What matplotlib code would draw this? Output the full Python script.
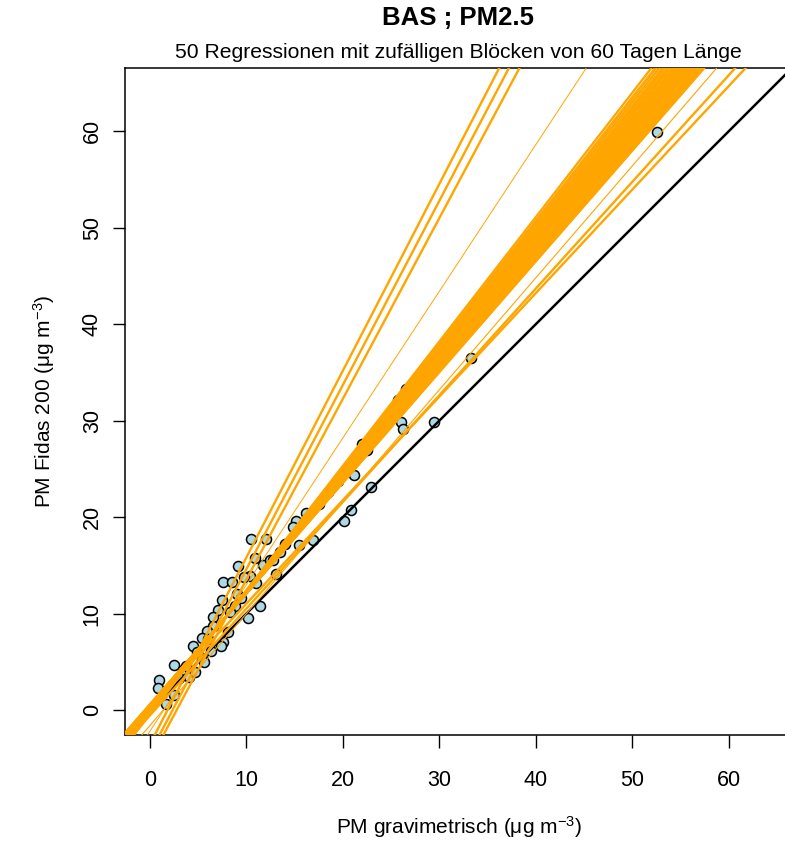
import numpy as np
import matplotlib
matplotlib.use("Agg")
from matplotlib import pyplot as plt

plt.rcParams['font.family'] = ['Liberation Sans', 'DejaVu Sans']
plt.rcParams['mathtext.fontset'] = 'custom'
plt.rcParams['mathtext.rm'] = 'Liberation Sans'
plt.rcParams['mathtext.it'] = 'Liberation Sans'

# Tagesmittel: gravimetrisch (x) gegen Fidas 200 (y)
grav = [52.6, 37.9, 40.9, 33.3, 29.5, 26.0, 26.2, 25.7, 26.6, 22.0,
        21.2, 22.9, 20.9, 20.1, 16.9, 15.2, 16.2, 15.5, 14.9, 30.1,
        29.5, 22.5, 27.2, 10.5, 12.1, 10.9, 11.7, 13.1, 10.4, 9.2,
        7.6, 8.5, 9.8, 7.5, 9.0, 11.4, 10.2, 7.1, 6.6, 6.6,
        5.9, 8.1, 7.6, 4.5, 5.4, 7.4, 6.4, 5.4, 2.5, 1.0,
        5.6, 4.1, 2.5, 0.9, 4.7, 1.7, 3.5, 3.0, 12.5, 13.5,
        14.0, 17.5, 18.5, 19.5, 24.0, 35.0, 32.0, 8.8, 9.5, 6.0,
        4.9, 3.8, 8.3, 11.0, 12.8]
fidas = [59.9, 47.0, 48.8, 36.5, 29.9, 29.9, 29.2, 32.2, 33.3, 27.6,
         24.4, 23.1, 20.8, 19.6, 17.6, 19.6, 20.4, 17.1, 19.0, 37.3,
         35.6, 27.0, 33.0, 17.8, 17.8, 15.8, 15.1, 14.1, 13.9, 15.0,
         13.3, 13.3, 13.8, 11.4, 12.0, 10.8, 9.6, 10.4, 9.7, 8.7,
         8.2, 8.1, 7.1, 6.7, 7.5, 6.7, 6.1, 5.4, 4.7, 3.1,
         5.0, 3.5, 1.6, 2.3, 4.0, 0.7, 4.2, 3.3, 15.6, 16.4,
         17.2, 21.4, 22.6, 23.8, 29.4, 42.0, 38.9, 10.8, 11.6, 7.4,
         6.0, 4.6, 10.2, 13.2, 15.6]

# 50 Regressionen (Achsenabschnitt, Steigung)
icpt = [-3.56, -4.50, -5.21, -2.20, -1.60, -0.55, 0.30,
        -0.469, -0.405, -0.362, -0.299, -0.257, -0.216, -0.175, -0.155, -0.114, -0.074,
        -0.054, -0.015, 0.005, 0.024, 0.063, 0.083, 0.102, 0.121, 0.159, 0.178,
        0.197, 0.216, 0.234, 0.253, 0.271, 0.290, 0.308, 0.327, 0.345, 0.363,
        0.381, 0.399, 0.417, 0.435, 0.453, 0.470, 0.488, 0.505, 0.523, 0.540,
        0.558, 0.575, 0.592]
slope = [1.936, 1.909, 1.873, 1.520, 1.160, 1.106, 1.073,
         1.2892, 1.2806, 1.2749, 1.2665, 1.2610, 1.2555, 1.2500, 1.2473, 1.2419, 1.2366,
         1.2339, 1.2286, 1.2260, 1.2234, 1.2182, 1.2156, 1.2131, 1.2105, 1.2055, 1.2029,
         1.2004, 1.1979, 1.1954, 1.1929, 1.1905, 1.1880, 1.1856, 1.1831, 1.1807, 1.1783,
         1.1759, 1.1735, 1.1711, 1.1687, 1.1663, 1.1640, 1.1616, 1.1593, 1.1569, 1.1546,
         1.1523, 1.1500, 1.1477]
lwd = [1.7, 1.7, 1.7, 0.7, 0.8, 1.7, 1.7,
       1.6, 0.8, 1.6, 1.6, 0.8, 1.6, 1.6, 0.8, 1.6, 1.6,
       1.6, 0.8, 1.6, 1.6, 1.6, 0.8, 1.6, 1.6, 1.6, 1.6,
       0.8, 1.6, 1.6, 1.6, 1.6, 0.8, 1.6, 1.6, 1.6, 1.6,
       1.6, 1.6, 0.8, 1.6, 1.6, 1.6, 1.6, 1.6, 1.6, 0.8,
       1.6, 1.6, 1.6]

ticks = [0, 10, 20, 30, 40, 50, 60]
lim = (-2.56, 66.56)

fig = plt.figure(figsize=(7.85, 8.42), dpi=100)
ax = fig.add_axes([125/785, 107/842, 667/785, 667/842])

ax.scatter(grav, fidas, s=52, c='lightblue', edgecolors='black', linewidths=1.1, zorder=2)
ax.axline((0, 0), slope=1, color='black', lw=1.8, zorder=3)
for a, b, w in zip(icpt, slope, lwd):
    ax.axline((0, a), slope=b, color='orange', lw=w, zorder=4)

ax.set_xlim(lim)
ax.set_ylim(lim)
ax.set_xticks(ticks)
ax.set_yticks(ticks)
ax.tick_params(labelsize=15.5, length=9, width=1)
ax.tick_params(axis='x', pad=16)
ax.tick_params(axis='y', pad=7)
plt.setp(ax.get_yticklabels(), rotation=90, va='center')
for s in ax.spines.values():
    s.set_linewidth(1.1)

ax.set_xlabel('PM gravimetrisch (μg m$^{-3}$)', fontsize=15, labelpad=17)
ax.set_ylabel('PM Fidas 200 (μg m$^{-3}$)', fontsize=15, labelpad=18)

cx = (125 + 792) / 2 / 785
fig.text(cx, 1 - 18/842, 'BAS ; PM2.5', ha='center', va='center', fontsize=18.5, fontweight='bold')
fig.text(cx, 1 - 52/842, '50 Regressionen mit zufälligen Blöcken von 60 Tagen Länge',
         ha='center', va='center', fontsize=15.2)

fig.savefig('out.png', dpi=100)
